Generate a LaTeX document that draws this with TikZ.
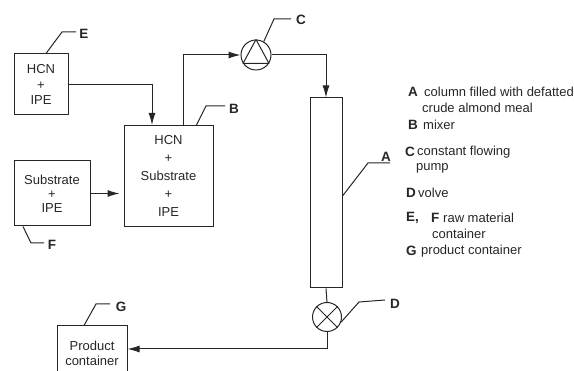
\documentclass[tikz,border=0pt]{standalone}
\usepackage{fontspec}
\setmainfont{Liberation Sans}
\usetikzlibrary{arrows.meta}
\tikzset{
  vessel/.style={draw,line width=1pt,align=center,inner sep=0pt},
  feed/.style={line width=1pt,-{Latex[length=12pt,width=7pt]}},
  pipe/.style={line width=1pt},
  leader/.style={line width=1pt},
  tag/.style={font=\fontsize{13.5}{14}\selectfont\bfseries,inner sep=2pt},
  legtag/.style={font=\fontsize{13.5}{15}\selectfont\bfseries,inner sep=0pt,anchor=west},
  legtext/.style={font=\fontsize{13}{15}\selectfont,inner sep=0pt,anchor=west},
}
\begin{document}
\begin{tikzpicture}[x=1pt,y=-1pt,font=\fontsize{13}{15}\selectfont,color=black!85]
\useasboundingbox (0,0) rectangle (574,371);
% ---- vessels ----
\node[vessel,minimum width=54pt,minimum height=61pt] (boxe) at (41,84.5)
  {HCN\\[0.6pt]+\\[0.6pt]IPE};
\node[vessel,minimum width=89pt,minimum height=101pt] (boxb) at (168.5,176)
  {HCN\\[3pt]+\\[3pt]Substrate\\[3pt]+\\[3pt]IPE};
\node[vessel,minimum width=76pt,minimum height=65pt] (boxf) at (52,193.5)
  {Substrate\\[-1pt]+\\[-1pt]IPE};
\node[vessel,minimum width=70pt,minimum height=54pt] (boxg) at (92,353)
  {Product\\container};
\node[vessel,minimum width=32pt,minimum height=190pt] (column) at (326,193) {};
% ---- pump and valve ----
\node[draw,circle,line width=1pt,minimum size=30pt,inner sep=0pt] (pump) at (256,55) {};
\draw[pipe,line join=round] (pump.90) -- (pump.213) -- (pump.327) -- cycle;
\node[draw,circle,line width=1pt,minimum size=29pt,inner sep=0pt] (valve) at (327,317) {};
\draw[pipe] (valve.45) -- (valve.225) (valve.135) -- (valve.315);
% ---- flow lines ----
\draw[feed] (boxe.east) -| ([xshift=-16.5pt]boxb.north);
\draw[feed] (boxf.east) -- ([xshift=-4pt]boxb.west |- boxf.east);
\draw[feed] ([xshift=14.5pt]boxb.north) |- (pump.west);
\draw[feed] (pump.east) -| (column.north);
\draw[pipe] (column.south) -- (valve.north);
\draw[feed] (valve.south) |- ([yshift=4pt]boxg.east);
% ---- tags ----
\node[tag] (tage) at (84,34) {E};
\node[tag] (tagb) at (234,109) {B};
\node[tag] (tagc) at (301,20) {C};
\node[tag] (taga) at (386,157) {A};
\node[tag] (tagd) at (395,304) {D};
\node[tag] (tagf) at (52,245) {F};
\node[tag] (tagg) at (121,307) {G};
\draw[leader] ([xshift=5pt]boxe.north) -- (62,32) -- (76,32);
\draw[leader] ([xshift=28pt]boxb.north) -- (206,106) -- (225,106);
\draw[leader] (pump.60) -- (274,19) -- (291,19);
\draw[leader] ([yshift=-3pt]column.east) -- (368,163) -- (390,163);
\draw[leader] (valve.-20) -- (359,302) -- (385,300);
\draw[leader] ([xshift=-29pt]boxf.south) -- (31,243) -- (44,243);
\draw[leader] ([xshift=-8pt]boxg.north) -- (96,304) -- (110,304);
% ---- legend ----
\node[legtag] at (408,92) {A};
\node[legtext] at (424,92) {column filled with defatted};
\node[legtext] at (422,108) {crude almond meal};
\node[legtag] at (408,125) {B};
\node[legtext] at (423,125) {mixer};
\node[legtag] at (405,152) {C};
\node[legtext] at (417,152) {constant flowing};
\node[legtext] at (416,168) {pump};
\node[legtag] at (406,193) {D};
\node[legtext] at (418,193) {volve};
\node[legtag] at (406,218) {E,};
\node[legtag] at (431,218) {F};
\node[legtext] at (443,218) {raw material};
\node[legtext] at (432,234) {container};
\node[legtag] at (406,251) {G};
\node[legtext] at (421,251) {product container};
\end{tikzpicture}
\end{document}
